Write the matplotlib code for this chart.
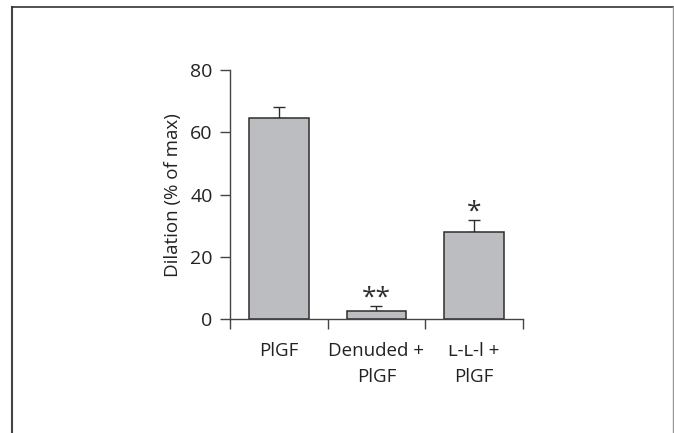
import matplotlib
matplotlib.use("Agg")
import matplotlib.pyplot as plt
from matplotlib.lines import Line2D

plt.rcParams['font.family'] = ['Open Sans', 'DejaVu Sans']

categories = ["PlGF", "Denuded +\nPlGF", "ʟ-ʟ-l +\nPlGF"]
values = [64.6, 2.6, 28.0]
errors = [3.6, 1.6, 3.8]
signif = ["", "**", "*"]
yticks = [0, 20, 40, 60, 80]

fig = plt.figure(figsize=(6.74, 4.33), dpi=100)
ax = fig.add_axes([230/674, 1-319.3/433, (522.7-230)/674, (319.3-70)/433])

x = list(range(len(categories)))
ax.bar(x, values, width=0.61, color="#bcbdc1", edgecolor="#2e2e2e", linewidth=1.1, zorder=3)
ax.errorbar(x, values, yerr=[[0]*len(values), errors], fmt="none", ecolor="#2e2e2e",
            elinewidth=1.0, capsize=4, capthick=1.0, zorder=2)

for xi, v, e, s in zip(x, values, errors, signif):
    if s:
        ax.annotate(s, (xi, v + e), xytext=(0, -3), textcoords="offset points",
                    ha="center", va="bottom", fontsize=19, color="#2e2e2e")

ax.set_xlim(-0.5, 2.5)
ax.set_ylim(0, 80)
ax.set_yticks(yticks)
ax.set_yticklabels([str(t) for t in yticks])
ax.set_xticks([-0.5, 0.5, 1.5, 2.5])
ax.set_xticklabels([])
ax.set_xticks(x, minor=True)
ax.set_xticklabels(categories, minor=True, linespacing=1.6)
ax.tick_params(axis="x", which="major", direction="out", length=7.5, width=1.0, color="#444444")
ax.tick_params(axis="x", which="minor", length=0, pad=16, labelsize=13.5, labelcolor="#222222")
ax.tick_params(axis="y", direction="out", length=7.5, width=1.0, color="#444444",
               pad=5, labelsize=14, labelcolor="#222222")

for sp in ["top", "right"]:
    ax.spines[sp].set_visible(False)
ax.spines["left"].set_color("#444444")
ax.spines["bottom"].set_color("#444444")
ax.spines["left"].set_linewidth(1.0)
ax.spines["bottom"].set_linewidth(1.0)

ax.set_ylabel("Dilation (% of max)", fontsize=13.5, color="#222222", labelpad=6)

# outer frame
fig.add_artist(Line2D([12/674, 12/674], [0, 1-7/433], transform=fig.transFigure, color="#444444", lw=1.5))
fig.add_artist(Line2D([12/674, 673/674], [1-7/433, 1-7/433], transform=fig.transFigure, color="#333333", lw=1.2))
fig.add_artist(Line2D([673/674, 673/674], [0, 1-7/433], transform=fig.transFigure, color="#999999", lw=1.0))

fig.savefig("out.png", dpi=100)
